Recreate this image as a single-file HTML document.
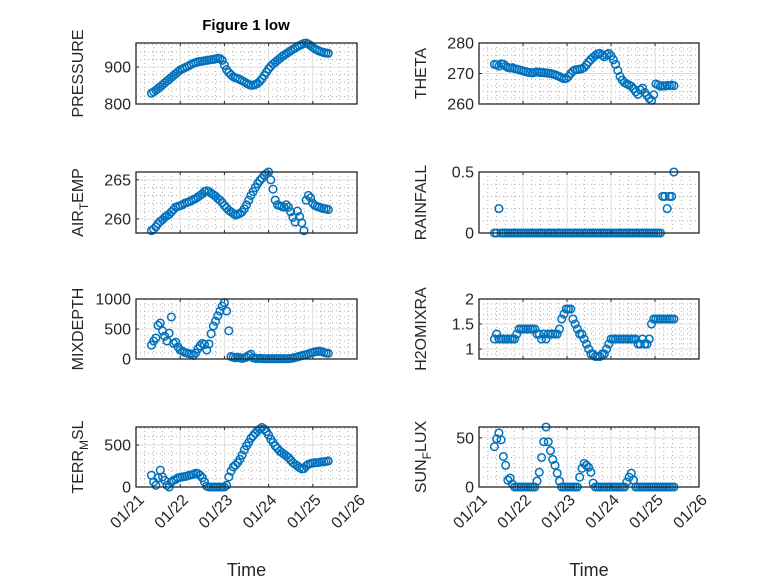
<!DOCTYPE html>
<html><head><meta charset="utf-8"><style>
html,body{margin:0;padding:0;background:#fff;}
svg{display:block;font-family:"Liberation Sans",sans-serif;}
</style></head><body>
<svg id="fig" width="778" height="583" viewBox="0 0 778 583">
<rect width="778" height="583" fill="#fff"/>
<text x="246" y="30" text-anchor="middle" font-size="15" font-weight="bold" fill="#000">Figure 1 low</text>
</svg>
<script>
const startDay = 0.35;
const stepDayLeft = 0.05;
const stepDayRight = 0.051;
const xTickLabels = ["01/21","01/22","01/23","01/24","01/25","01/26"];
const pressure = [829,833,837,842,847,852,857,862,867,872,877,882,887,892,895,898,901,904,907,910,912,914,915,916,917,918,919,920,921,922,924,923,918,905,893,885,879,874,871,869,866,863,860,856,853,851,851,853,856,861,868,877,886,895,902,908,913,918,923,928,932,936,940,944,948,951,955,958,961,964,965,962,958,953,949,946,943,941,939,938,937];
const theta = [273.0,272.8,272.4,273.2,273.0,272.4,272.0,271.8,271.9,271.6,271.4,271.2,271.0,270.8,270.6,270.4,270.3,270.2,270.4,270.5,270.4,270.3,270.3,270.2,270.1,270.0,269.8,269.6,269.3,269.0,268.6,268.3,268.4,269.0,270.0,270.8,271.2,271.3,271.4,271.6,272.0,272.8,273.8,274.6,275.3,275.9,276.4,276.6,276.0,275.5,276.2,276.6,275.8,274.5,273.0,271.0,269.0,267.8,267.0,266.6,266.2,265.8,265.0,264.0,263.2,264.6,265.2,263.8,262.8,261.8,261.2,263.0,266.6,266.2,265.8,266.0,265.9,266.1,266.0,266.2,266.0];
const airTemp = [258.5,258.7,259.0,259.4,259.7,259.9,260.2,260.4,260.6,260.9,261.2,261.5,261.6,261.7,261.8,262.0,262.1,262.2,262.3,262.5,262.6,262.8,263.0,263.2,263.5,263.6,263.5,263.3,263.1,262.9,262.6,262.4,262.1,261.7,261.4,261.1,260.9,260.7,260.5,260.6,260.7,260.9,261.3,261.8,262.4,263.0,263.5,264.0,264.5,264.9,265.2,265.6,265.8,266.0,265.0,263.8,262.4,261.8,261.7,261.6,261.5,261.8,261.5,260.9,260.2,259.6,261.0,260.3,259.5,258.5,262.4,263.0,262.7,262.0,261.7,261.6,261.5,261.4,261.3,261.3,261.2];
const rainfall = [0,0,0.2,0,0,0,0,0,0,0,0,0,0,0,0,0,0,0,0,0,0,0,0,0,0,0,0,0,0,0,0,0,0,0,0,0,0,0,0,0,0,0,0,0,0,0,0,0,0,0,0,0,0,0,0,0,0,0,0,0,0,0,0,0,0,0,0,0,0,0,0,0,0,0,0,0.3,0.3,0.2,0.3,0.3,0.5];
const mixDepth = [230,300,350,560,600,470,380,300,430,700,260,280,200,150,130,110,100,90,80,60,100,170,220,260,240,150,250,420,550,630,720,800,880,940,800,470,40,30,20,30,20,10,20,30,60,80,20,10,10,10,8,6,5,5,5,5,5,5,5,5,5,5,5,10,15,25,35,45,55,65,75,85,100,110,120,125,130,125,110,100,95];
const h2oMixRa = [1.2,1.3,1.2,1.2,1.2,1.2,1.2,1.2,1.2,1.2,1.3,1.4,1.4,1.4,1.4,1.4,1.4,1.4,1.4,1.3,1.3,1.2,1.3,1.2,1.3,1.3,1.3,1.3,1.3,1.4,1.6,1.7,1.8,1.8,1.8,1.6,1.5,1.4,1.3,1.3,1.2,1.1,1.0,0.9,0.9,0.85,0.85,0.85,0.9,0.9,1.0,1.1,1.2,1.2,1.2,1.2,1.2,1.2,1.2,1.2,1.2,1.2,1.2,1.2,1.1,1.1,1.2,1.1,1.1,1.2,1.5,1.6,1.6,1.6,1.6,1.6,1.6,1.6,1.6,1.6,1.6];
const terrMsl = [140,60,20,110,200,120,80,20,0,60,80,90,110,115,120,125,130,140,145,150,165,160,140,110,60,10,0,0,0,0,0,0,0,0,20,120,190,240,260,290,330,380,440,490,530,580,610,640,670,690,710,690,660,620,570,530,490,460,430,410,390,370,350,320,290,270,250,230,215,220,250,270,280,285,290,290,295,300,300,305,310];
const sunFlux = [41,49,55,48,31,22,7,9,3,0,0,0,0,0,0,0,0,0,0,6,15,30,46,61,46,37,28,22,14,6,0,0,0,0,0,0,0,0,10,19,24,22,20,15,4,0,0,0,0,0,0,0,0,0,0,0,0,0,0,5,10,14,7,0,0,0,0,0,0,0,0,0,0,0,0,0,0,0,0,0,0];

const NS = "http://www.w3.org/2000/svg";
const svg = document.getElementById("fig");
function mk(tag, attrs, parent){
  const e = document.createElementNS(NS, tag);
  for (const k in attrs) e.setAttribute(k, attrs[k]);
  (parent||svg).appendChild(e);
  return e;
}
const cols = [{x0:136,x1:357,lab:77,step:stepDayLeft},{x0:479,x1:699,lab:420,step:stepDayRight}];
const rows = [{y0:43,y1:104},{y0:172,y1:233},{y0:299,y1:359},{y0:427,y1:487}];
const panels = [
  {key:"pressure",c:0,r:0,data:pressure,ymin:800,ymax:965,ticks:[800,900],tl:["800","900"],minor:20,label:["PRESSURE"]},
  {key:"theta",c:1,r:0,data:theta,ymin:260,ymax:280,ticks:[260,270,280],tl:["260","270","280"],minor:2,label:["THETA"]},
  {key:"air-temp",c:0,r:1,data:airTemp,ymin:258.2,ymax:266,ticks:[260,265],tl:["260","265"],minor:1,label:["AIR","T","EMP"]},
  {key:"rainfall",c:1,r:1,data:rainfall,ymin:0,ymax:0.5,ticks:[0,0.5],tl:["0","0.5"],minor:0.1,label:["RAINFALL"]},
  {key:"mixdepth",c:0,r:2,data:mixDepth,ymin:0,ymax:1000,ticks:[0,500,1000],tl:["0","500","1000"],minor:100,label:["MIXDEPTH"]},
  {key:"h2omixra",c:1,r:2,data:h2oMixRa,ymin:0.8,ymax:2,ticks:[1,1.5,2],tl:["1","1.5","2"],minor:0.1,label:["H2OMIXRA"]},
  {key:"terr-msl",c:0,r:3,data:terrMsl,ymin:0,ymax:715,ticks:[0,500],tl:["0","500"],minor:100,label:["TERR","M","SL"]},
  {key:"sun-flux",c:1,r:3,data:sunFlux,ymin:0,ymax:61,ticks:[0,50],tl:["0","50"],minor:10,label:["SUN","F","LUX"]}
];
panels.forEach(p=>{
  const C = cols[p.c], R = rows[p.r];
  const g = mk("g",{});
  
  
  const xs = t => C.x0 + (t/5)*(C.x1-C.x0);
  const ys = v => R.y1 - (v-p.ymin)/(p.ymax-p.ymin)*(R.y1-R.y0);
  for (let t=0.2;t<5;t+=0.2){
    if (Math.abs(t-Math.round(t))<1e-6) continue;
    const l = mk("line",{x1:xs(t),x2:xs(t),y1:R.y0,y2:R.y1,stroke:"#b0b0b0","stroke-width":1,"stroke-dasharray":"1 3"},g);
    
    
  }
  const m0 = Math.ceil(p.ymin/p.minor)*p.minor;
  for (let v=m0; v<p.ymax-1e-9; v+=p.minor){
    if (p.ticks.some(tk=>Math.abs(tk-v)<1e-6)) continue;
    const l = mk("line",{x1:C.x0,x2:C.x1,y1:ys(v),y2:ys(v),stroke:"#b0b0b0","stroke-width":1,"stroke-dasharray":"1 3"},g);
    
    
  }
  for (let i=1;i<5;i++){
    const l = mk("line",{x1:xs(i),x2:xs(i),y1:R.y0,y2:R.y1,stroke:"#dedede","stroke-width":1},g);
    
    
  }
  p.ticks.forEach((v,i)=>{
    const l = mk("line",{x1:C.x0,x2:C.x1,y1:ys(v),y2:ys(v),stroke:"#dedede","stroke-width":1},g);
    
    
    const tk = mk("line",{x1:C.x0,x2:C.x0+3,y1:ys(v),y2:ys(v),stroke:"#262626","stroke-width":1},g);
    
    
    const tx = mk("text",{x:C.x0-5,y:ys(v)+5.5,"text-anchor":"end","font-size":"16",fill:"#262626"},g);
    tx.textContent = p.tl[i];
    
    
  });
  for (let i=0;i<=5;i++){
    const tk = mk("line",{x1:xs(i),x2:xs(i),y1:R.y1,y2:R.y1-3,stroke:"#262626","stroke-width":1},g);
    
    
    const tk2 = mk("line",{x1:xs(i),x2:xs(i),y1:R.y0,y2:R.y0+3,stroke:"#262626","stroke-width":1},g);
    
    
    if (p.r===3){
      const ax = xs(i)+9, ay = R.y1+14;
      const tx = mk("text",{x:ax,y:ay,"text-anchor":"end","font-size":"16",fill:"#262626",transform:`rotate(-45 ${ax} ${ay})`},g);
      tx.textContent = xTickLabels[i];
      
      
    }
  }
  p.data.forEach((v,i)=>{
    const t = startDay + i*C.step;
    const c = mk("circle",{cx:xs(t),cy:ys(v),r:3.8,fill:"none",stroke:"#0072BD","stroke-width":1.5},g);
    
    
  });
  const box = mk("rect",{x:C.x0,y:R.y0,width:C.x1-C.x0,height:R.y1-R.y0,fill:"none",stroke:"#262626","stroke-width":1.3},g);
  
  
  const cy = (R.y0+R.y1)/2;
  const yl = mk("text",{x:C.lab+6,y:cy,"text-anchor":"middle","font-size":"16",fill:"#262626",transform:`rotate(-90 ${C.lab+6} ${cy})`},g);
  
  
  if (p.label.length===1){ yl.textContent = p.label[0]; }
  else {
    const a = mk("tspan",{},yl); a.textContent = p.label[0];
    const b = mk("tspan",{dy:"5","font-size":"12"},yl); b.textContent = p.label[1];
    const c = mk("tspan",{dy:"-5"},yl); c.textContent = p.label[2];
  }
  if (p.r===3){
    const xl = mk("text",{x:(C.x0+C.x1)/2,y:576,"text-anchor":"middle","font-size":"18",fill:"#262626"},g);
    xl.textContent = "Time";
    
    
  }
});
</script>
</body></html>
